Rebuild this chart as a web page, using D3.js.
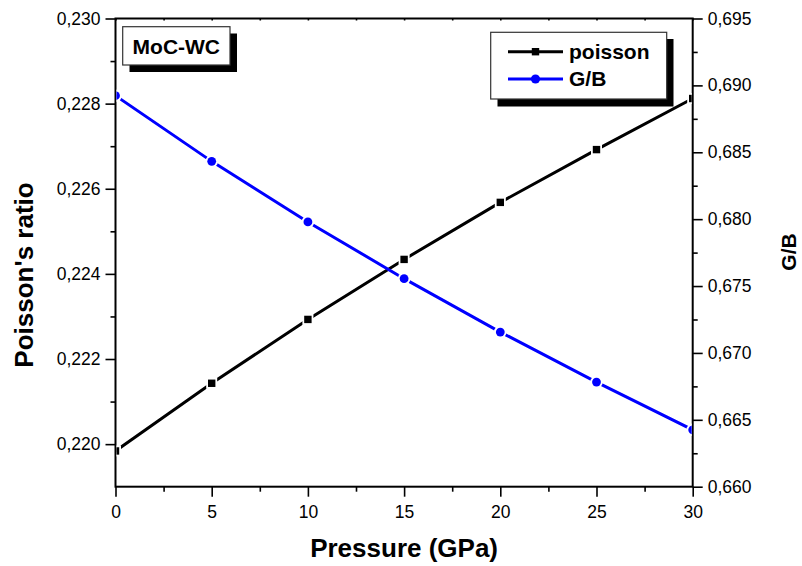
<!DOCTYPE html>
<html>
<head>
<meta charset="utf-8">
<script src="https://cdn.jsdelivr.net/npm/d3@7"></script>
<style>
  body { margin: 0; background: #fff; }
  svg { display: block; font-family: "Liberation Sans", Arial, sans-serif; }
</style>
</head>
<body>
<div id="chart"></div>
<script>
// data
const pressure = [0, 5, 10, 15, 20, 25, 30];
const poisson = [0.21984, 0.22143, 0.22293, 0.22434, 0.22568, 0.22692, 0.22812];
const gOverB = [0.68923, 0.68432, 0.67979, 0.67555, 0.67156, 0.66782, 0.66425];

const xTicks = [0, 5, 10, 15, 20, 25, 30];
const xMinor = [2.5, 7.5, 12.5, 17.5, 22.5, 27.5];
const leftTicks = [0.220, 0.222, 0.224, 0.226, 0.228, 0.230];
const leftMinor = [0.221, 0.223, 0.225, 0.227, 0.229];
const rightTicks = [0.660, 0.665, 0.670, 0.675, 0.680, 0.685, 0.690, 0.695];
const rightMinor = [0.6625, 0.6675, 0.6725, 0.6775, 0.6825, 0.6875, 0.6925];

const width = 802, height = 566;
const plot = { left: 115.5, right: 692.7, top: 18.5, bottom: 486.7 };

const svg = d3.select("#chart").append("svg")
  .attr("width", width)
  .attr("height", height);

const x = d3.scaleLinear().domain([0, 30]).range([plot.left, plot.right]);
const yL = d3.scaleLinear().domain([0.219, 0.230]).range([plot.bottom, plot.top]);
const yR = d3.scaleLinear().domain([0.660, 0.695]).range([plot.bottom, plot.top]);

// comma decimal mark
const loc = d3.formatLocale({ decimal: ",", thousands: ".", grouping: [3], currency: ["", ""] });
const f3 = loc.format(".3f");

function styleAxis(g, size) {
  g.selectAll(".domain").remove();
  g.selectAll(".tick line").attr("stroke", "#000").attr("stroke-width", 1.6);
  g.selectAll("text")
    .attr("fill", "#000")
    .style("font-family", "'Liberation Sans', Arial, sans-serif")
    .style("font-size", size + "px");
}

// bottom axis
svg.append("g")
  .attr("transform", `translate(0,${plot.bottom})`)
  .call(d3.axisBottom(x).tickValues(xTicks).tickSize(10).tickPadding(9).tickFormat(d3.format("d")))
  .call(g => styleAxis(g, 17.5));
svg.append("g")
  .attr("transform", `translate(0,${plot.bottom})`)
  .call(d3.axisBottom(x).tickValues(xMinor).tickSize(5).tickFormat(""))
  .call(g => styleAxis(g, 17.5));

// top axis (tiny inward ticks)
svg.append("g")
  .attr("transform", `translate(0,${plot.top})`)
  .call(d3.axisTop(x).tickValues(xTicks.concat(xMinor)).tickSize(-2).tickFormat(""))
  .call(g => styleAxis(g, 17.5));

// left axis
svg.append("g")
  .attr("transform", `translate(${plot.left},0)`)
  .call(d3.axisLeft(yL).tickValues(leftTicks).tickSize(10).tickPadding(5).tickFormat(f3))
  .call(g => styleAxis(g, 17.5));
svg.append("g")
  .attr("transform", `translate(${plot.left},0)`)
  .call(d3.axisLeft(yL).tickValues(leftMinor).tickSize(5).tickFormat(""))
  .call(g => styleAxis(g, 17.5));

// right axis
svg.append("g")
  .attr("transform", `translate(${plot.right},0)`)
  .call(d3.axisRight(yR).tickValues(rightTicks).tickSize(10).tickPadding(5).tickFormat(f3))
  .call(g => styleAxis(g, 17.5));
svg.append("g")
  .attr("transform", `translate(${plot.right},0)`)
  .call(d3.axisRight(yR).tickValues(rightMinor).tickSize(5).tickFormat(""))
  .call(g => styleAxis(g, 17.5));

// frame
svg.append("rect")
  .attr("x", plot.left).attr("y", plot.top)
  .attr("width", plot.right - plot.left).attr("height", plot.bottom - plot.top)
  .attr("fill", "none").attr("stroke", "#000").attr("stroke-width", 2);

// clip for the series
svg.append("clipPath").attr("id", "clip")
  .append("rect")
  .attr("x", plot.left + 1).attr("y", plot.top)
  .attr("width", plot.right - plot.left - 2).attr("height", plot.bottom - plot.top);

const series = [
  { name: "poisson", values: poisson, scale: yL, color: "#000", shape: "square" },
  { name: "G/B", values: gOverB, scale: yR, color: "#0000ff", shape: "circle" }
];

function drawMarker(g, shape, cx, cy, color) {
  if (shape === "square") {
    g.append("rect").attr("x", cx - 5.5).attr("y", cy - 5.5).attr("width", 11).attr("height", 11).attr("fill", "#fff");
    g.append("rect").attr("x", cx - 3.7).attr("y", cy - 3.7).attr("width", 7.4).attr("height", 7.4).attr("fill", color);
  } else {
    g.append("circle").attr("cx", cx).attr("cy", cy).attr("r", 6.3).attr("fill", "#fff");
    g.append("circle").attr("cx", cx).attr("cy", cy).attr("r", 4.4).attr("fill", color);
  }
}

const plotG = svg.append("g").attr("clip-path", "url(#clip)");
series.forEach(s => {
  const pts = pressure.map((p, i) => [x(p), s.scale(s.values[i])]);
  plotG.append("path")
    .datum(pts)
    .attr("fill", "none")
    .attr("stroke", s.color)
    .attr("stroke-width", 3)
    .attr("d", d3.line());
  const mg = plotG.append("g");
  pts.forEach(p => drawMarker(mg, s.shape, p[0], p[1], s.color));
});

// label box "MoC-WC"
const lab = svg.append("g");
lab.append("rect").attr("x", 129.5).attr("y", 33.5).attr("width", 107.5).attr("height", 38.5).attr("fill", "#000");
lab.append("rect").attr("x", 122.7).attr("y", 26.7).attr("width", 107.3).attr("height", 38.3)
  .attr("fill", "#fff").attr("stroke", "#333").attr("stroke-width", 1.2);
lab.append("text").attr("x", 176.3).attr("y", 54)
  .attr("text-anchor", "middle").attr("font-weight", "bold").attr("font-size", 21)
  .text("MoC-WC");

// legend
const leg = svg.append("g");
leg.append("rect").attr("x", 497.5).attr("y", 39).attr("width", 176).attr("height", 67.5).attr("fill", "#000");
leg.append("rect").attr("x", 490.7).attr("y", 32.3).attr("width", 176).attr("height", 66.7)
  .attr("fill", "#fff").attr("stroke", "#333").attr("stroke-width", 1.2);
series.forEach((s, i) => {
  const cy = 51.7 + i * 27.3;
  leg.append("line").attr("x1", 508).attr("x2", 563).attr("y1", cy).attr("y2", cy)
    .attr("stroke", s.color).attr("stroke-width", 3);
  if (s.shape === "square") {
    leg.append("rect").attr("x", 535.5 - 3.7).attr("y", cy - 3.7).attr("width", 7.4).attr("height", 7.4).attr("fill", s.color);
  } else {
    leg.append("circle").attr("cx", 535.5).attr("cy", cy).attr("r", 4.6).attr("fill", s.color);
  }
  leg.append("text").attr("x", 569).attr("y", cy + 7)
    .attr("font-weight", "bold").attr("font-size", 21)
    .text(s.name);
});

// axis titles
svg.append("text")
  .attr("x", (plot.left + plot.right) / 2).attr("y", 557)
  .attr("text-anchor", "middle").attr("font-weight", "bold").attr("font-size", 26)
  .text("Pressure (GPa)");

svg.append("text")
  .attr("transform", "translate(33,275) rotate(-90)")
  .attr("text-anchor", "middle").attr("font-weight", "bold").attr("font-size", 26)
  .text("Poisson's ratio");

svg.append("text")
  .attr("transform", "translate(796,252) rotate(-90)")
  .attr("text-anchor", "middle").attr("font-weight", "bold").attr("font-size", 21)
  .text("G/B");
</script>
</body>
</html>
